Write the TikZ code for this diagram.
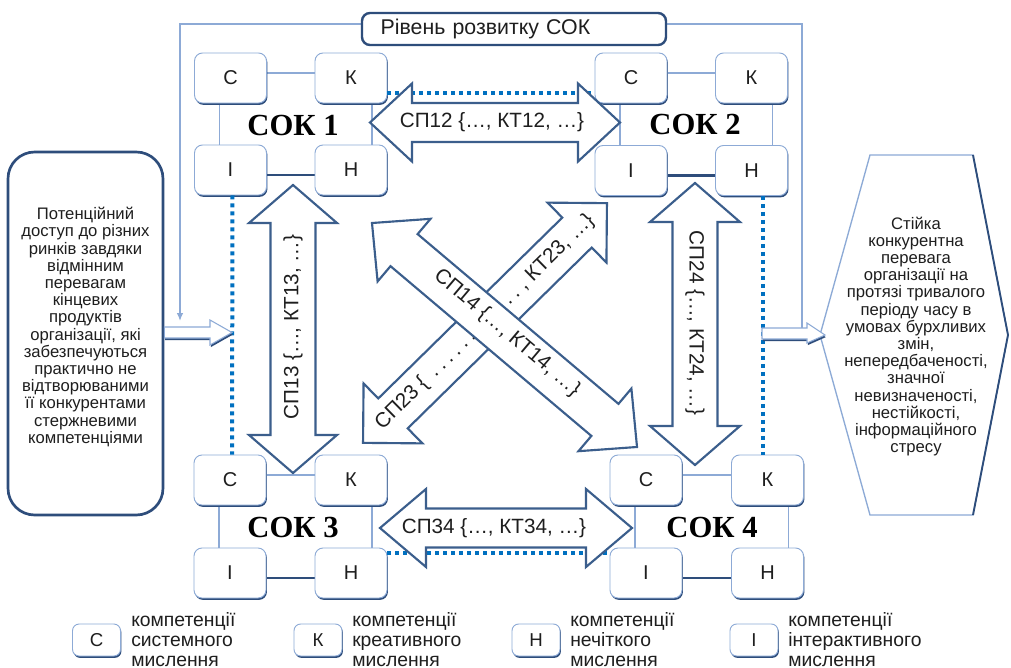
\documentclass[tikz,border=0pt]{standalone}
\usepackage{fontspec}
\setmainfont{Liberation Sans}
\newfontfamily\sokfont{Liberation Serif}
\usetikzlibrary{arrows.meta,shadows,backgrounds}
\definecolor{darkblue}{HTML}{3B5E8C}
\definecolor{lightblue}{HTML}{8DAAD6}
\definecolor{shadowblue}{HTML}{2E4D7B}
\definecolor{dotblue}{HTML}{0070C0}
\definecolor{txt}{HTML}{1E1E1E}
\tikzset{
 cbox/.style={draw=lightblue, line width=0.7pt, fill=white, rounded corners=6pt,
   minimum width=54pt, minimum height=37.5pt, inner sep=0pt,
   font=\fontsize{15}{18}\selectfont, text=txt,
   general shadow={fill=shadowblue, shadow xshift=0.7pt, shadow yshift=-1.4pt}},
 lgbox/.style={cbox, minimum width=36pt, minimum height=24pt, rounded corners=5pt,
   font=\fontsize{14}{16}\selectfont},
 lgtext/.style={anchor=west, align=left, inner sep=0pt,
   font=\fontsize{14.5}{15}\selectfont, text=txt},
 thinln/.style={draw=lightblue, line width=0.8pt},
 thickln/.style={draw=shadowblue, line width=1.8pt},
 dotln/.style={draw=dotblue, line width=3pt, dash pattern=on 3pt off 3pt},
 barrow/.style={draw=darkblue, line width=1.6pt, fill=white, line join=miter},
 atext/.style={font=\fontsize{15.5}{18}\selectfont, text=txt, inner sep=0pt},
 soklabel/.style={font=\sokfont\bfseries\fontsize{23}{26}\selectfont, text=black, inner sep=0pt},
 frameln/.style={draw=lightblue, line width=1.1pt},
 sarrow/.style={draw=lightblue, line width=0.8pt, fill=white,
   general shadow={fill=shadowblue, shadow xshift=0.6pt, shadow yshift=-1.6pt}},
 bigtext/.style={align=center, font=\fontsize{12.5}{12.9}\selectfont, text=txt, inner sep=0pt},
 titlebox/.style={draw=shadowblue, line width=1.8pt, fill=white, rounded corners=6pt,
   text width=200pt, inner xsep=14pt, inner ysep=0pt, minimum height=24pt, align=left,
   font=\fontsize{16}{19}\selectfont, text=txt},
 leftbox/.style={draw=shadowblue, line width=2pt, fill=white, rounded corners=20pt,
   minimum width=116.25pt, minimum height=272.25pt, inner sep=0pt},
}
\newcommand{\sokframe}[4]{%
 \draw[thinln] ([yshift=3.75pt]#1.center) -- ([yshift=3.75pt]#2.center);
 \draw[thinln] ([xshift=-8.25pt]#1.center) -- ([xshift=-8.25pt]#3.center);
 \draw[thinln] ([xshift=15.75pt]#2.center) -- ([xshift=15.75pt]#4.center);
 \draw[thickln] ([yshift=-3.75pt]#3.center) -- ([yshift=-3.75pt]#4.center);}
\newcommand{\blockarrow}[6]{%
 \begin{scope}[shift={#1}, rotate=#2]
 \draw[barrow] (-#3,0) -- ({-#3+#4},#5) -- ({-#3+#4},#6) -- ({#3-#4},#6) -- ({#3-#4},#5)
   -- (#3,0) -- ({#3-#4},-#5) -- ({#3-#4},-#6) -- ({-#3+#4},-#6) -- ({-#3+#4},-#5) -- cycle;
 \end{scope}}
\begin{document}
\begin{tikzpicture}[x=0.75pt, y=-0.75pt]
\useasboundingbox (0,0) rectangle (1011,668);

% SOK boxes
\node[cbox] (C1) at (230.5,78) {С};
\node[cbox] (K1) at (351,78) {К};
\node[cbox] (I1) at (230.5,170) {І};
\node[cbox] (N1) at (351,170) {Н};
\node[cbox] (C2) at (631,78) {С};
\node[cbox] (K2) at (751.5,78) {К};
\node[cbox] (I2) at (631,170.5) {І};
\node[cbox] (N2) at (751.5,170.5) {Н};
\node[cbox] (C3) at (230,480) {С};
\node[cbox] (K3) at (351,480) {К};
\node[cbox] (I3) at (230,573) {І};
\node[cbox] (N3) at (351,573) {Н};
\node[cbox] (C4) at (646,480) {С};
\node[cbox] (K4) at (767.5,480) {К};
\node[cbox] (I4) at (646,573) {І};
\node[cbox] (N4) at (767.5,573) {Н};

% title and outer frame
\node[titlebox] (title) at (514,29) {Рівень розвитку СОК};
\coordinate (lfr) at (180,321);
\coordinate (rfr) at (802,328);

\begin{scope}[on background layer]
 \fill[white] (0,0) rectangle (1011,668);
 \sokframe{C1}{K1}{I1}{N1}
 \sokframe{C2}{K2}{I2}{N2}
 \sokframe{C3}{K3}{I3}{N3}
 \sokframe{C4}{K4}{I4}{N4}
 \draw[frameln] ([yshift=3.75pt]title.east) -| (rfr);
 \draw[frameln, -{Latex[length=6pt,width=5pt]}] ([yshift=3.75pt]title.west) -| (lfr);
\end{scope}

% dotted links
\draw[dotln] ([yshift=-11.25pt]K1.east) -- ([yshift=-11.25pt]C2.west);
\draw[dotln] ([xshift=1.5pt]I1.south) -- ([xshift=1.5pt]C3.north);
\draw[dotln] ([xshift=8.25pt]N2.south) -- ([xshift=8.25pt]N2.south |- K4.north);
\draw[dotln] ([yshift=15pt]N3.east) -- ([yshift=15pt]I4.west);

% block arrows
\blockarrow{(495,122.5)}{0}{125}{42}{39}{19.5}
\node[atext] (t12) at (492,122.5) {СП12 \{…, КТ12, …\}};
\blockarrow{(506,528)}{0}{126}{46}{39}{19.5}
\node[atext] (t34) at (494,528) {СП34 \{…, КТ34, …\}};
\blockarrow{(293,329)}{90}{144}{38}{44}{22.5}
\node[atext, rotate=90] (t13) at (293,327) {СП13 \{…, КТ13, …\}};
\blockarrow{(695,324)}{90}{141}{39}{45}{22.5}
\node[atext, rotate=-90] (t24) at (695,323) {СП24 \{…, КТ24, …\}};
\blockarrow{(485,323)}{44.5}{171}{42}{42}{21}
\node[atext, rotate=44.5] (t23) at (485,322) {СП23 \{\leaders\hbox to 0.5em{\hss.\hss}\hskip 6.5em, КТ23, …\}};
\blockarrow{(504.5,335)}{-40.2}{173.5}{42}{41}{21}
\node[atext, rotate=-40.2] (t14) at (507,333) {СП14 \{…, КТ14, …\}};

% SOK labels
\node[soklabel] (L1) at (293,125) {СОК 1};
\node[soklabel] (L2) at (695,124) {СОК 2};
\node[soklabel] (L3) at (293,527) {СОК 3};
\node[soklabel] (L4) at (712,527) {СОК 4};

% left box
\node[leftbox] (lb) at (85.5,333.5) {};
\node[bigtext] (lbt) at (85.5,327) {Потенційний\\доступ до різних\\ринків завдяки\\відмінним\\перевагам\\кінцевих\\продуктів\\організації, які\\забезпечуються\\практично не\\відтворюваними\\її конкурентами\\стержневими\\компетенціями};
\draw[sarrow] (lb.east |- 0,327) -- (210,327) -- (210,320) -- (232,332.5) -- (210,345) -- (210,338) -- (lb.east |- 0,338) -- cycle;

% hexagon
\coordinate (h1) at (870,155);
\coordinate (h2) at (973,155);
\coordinate (h3) at (1008,335);
\coordinate (h4) at (973,515);
\coordinate (h5) at (870,515);
\coordinate (h6) at (820,335);
\draw[draw=lightblue, line width=1pt, fill=white] (h1) -- (h2) -- (h3) -- (h4) -- (h5) -- (h6) -- cycle;
\draw[draw=shadowblue, line width=1.4pt] (h2) -- (h3) -- (h4);
\node[bigtext] (hx) at (916,336.5) {Стійка\\конкурентна\\перевага\\організації на\\протязі тривалого\\періоду часу в\\умовах бурхливих\\змін,\\непередбаченості,\\значної\\невизначеності,\\нестійкості,\\інформаційного\\стресу};
\draw[sarrow] (762,328) -- (807,328) -- (807,323) -- (h6 -| 825,0) -- (807,343) -- (807,339) -- (762,339) -- cycle;

% legend
\node[lgbox] (lgC) at (96.5,640) {С};
\node[lgtext] (lgCt) at (131,640) {компетенції\\системного\\мислення};
\node[lgbox] (lgK) at (318,640) {К};
\node[lgtext] (lgKt) at (352,640) {компетенції\\креативного\\мислення};
\node[lgbox] (lgN) at (536,640) {Н};
\node[lgtext] (lgNt) at (570,640) {компетенції\\нечіткого\\мислення};
\node[lgbox] (lgI) at (754,640) {І};
\node[lgtext] (lgIt) at (788,640) {компетенції\\інтерактивного\\мислення};
\end{tikzpicture}
\end{document}
